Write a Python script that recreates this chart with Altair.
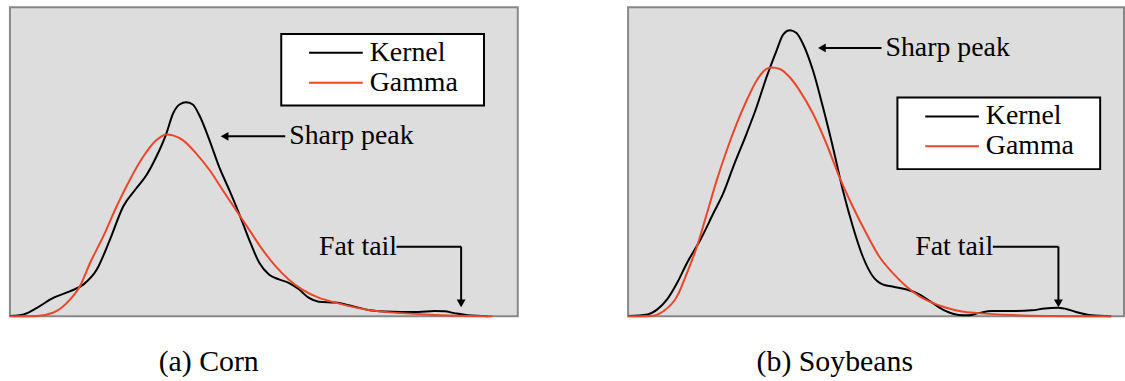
import altair as alt
import pandas as pd

FONT = "Liberation Serif"
SERIES = ["Kernel", "Gamma"]
COLORS = ["#000000", "#e8472a"]

# Corn: kernel density vs fitted gamma density (x scaled to 0-100, density relative)
corn_kernel_x = [0, 2.7, 5.4, 8.6, 11.9, 14.5, 17.1, 19.7, 22.3, 24.9, 26.9, 28.8, 30.8, 32.1,
                 33.4, 34.7, 36.0, 37.3, 39.3, 41.2, 43.2, 45.1, 47.1, 49.1, 51.0, 53.0, 54.9,
                 56.9, 58.8, 60.8, 64.1, 67.3, 70.6, 73.8, 77.1, 80.4, 83.6, 85.6, 87.5, 90.2,
                 92.8, 94.1]
corn_kernel_y = [0.001, 0.006, 0.028, 0.060, 0.081, 0.103, 0.151, 0.248, 0.355, 0.414, 0.457,
                 0.515, 0.591, 0.655, 0.685, 0.692, 0.685, 0.650, 0.569, 0.483, 0.408, 0.333,
                 0.248, 0.173, 0.135, 0.119, 0.108, 0.087, 0.060, 0.047, 0.044, 0.033, 0.020,
                 0.015, 0.014, 0.014, 0.017, 0.016, 0.010, 0.003, 0.001, 0.0]
corn_gamma_x = [0, 5.4, 8.6, 11.9, 13.8, 15.8, 18.4, 21.0, 23.6, 26.2, 28.8, 30.8, 32.1, 34.1,
                36.7, 39.3, 41.9, 44.5, 47.1, 49.7, 52.3, 54.9, 57.5, 60.8, 64.1, 67.3, 70.6,
                73.8, 77.1, 83.6, 90.2, 95.0]
corn_gamma_y = [0.0, 0.001, 0.012, 0.055, 0.098, 0.173, 0.259, 0.355, 0.441, 0.515, 0.569,
                0.588, 0.585, 0.569, 0.526, 0.473, 0.408, 0.344, 0.280, 0.216, 0.162, 0.119,
                0.087, 0.060, 0.044, 0.031, 0.020, 0.014, 0.010, 0.004, 0.001, 0.0]

# Soybeans
soy_kernel_x = [0, 3.9, 5.9, 7.9, 9.9, 11.9, 14.6, 17.2, 19.2, 21.2, 23.9, 25.9, 27.9, 29.9,
                31.3, 32.6, 33.9, 35.3, 37.3, 39.3, 41.3, 43.3, 45.3, 47.3, 49.3, 51.3, 53.3,
                56.0, 58.7, 61.3, 64.0, 66.7, 68.7, 70.7, 73.4, 77.4, 81.4, 84.0, 86.7, 88.7,
                90.7, 93.4, 97.4]
soy_kernel_y = [0.001, 0.006, 0.022, 0.055, 0.108, 0.173, 0.248, 0.333, 0.398, 0.483, 0.591,
                0.676, 0.773, 0.858, 0.912, 0.925, 0.917, 0.880, 0.794, 0.676, 0.547, 0.408,
                0.291, 0.194, 0.130, 0.103, 0.096, 0.087, 0.071, 0.044, 0.017, 0.004, 0.003,
                0.010, 0.017, 0.017, 0.019, 0.025, 0.027, 0.022, 0.012, 0.003, 0.0]
soy_gamma_x = [0, 4.5, 7.2, 9.9, 11.9, 13.9, 15.9, 17.9, 19.9, 21.9, 23.9, 25.9, 27.9, 28.9,
               30.6, 32.6, 34.6, 37.3, 40.0, 42.6, 45.3, 48.0, 50.6, 53.3, 56.0, 58.7, 61.3,
               64.0, 67.3, 70.7, 77.4, 84.0, 90.7, 97.4]
soy_gamma_y = [0.0, 0.001, 0.017, 0.065, 0.141, 0.226, 0.333, 0.441, 0.537, 0.623, 0.698,
               0.762, 0.800, 0.805, 0.800, 0.773, 0.730, 0.655, 0.558, 0.451, 0.355, 0.269,
               0.194, 0.141, 0.098, 0.065, 0.044, 0.028, 0.015, 0.010, 0.004, 0.001, 0.0, 0.0]

CAPTIONS = ["(a) Corn", "(b) Soybeans"]
PEAK_LABEL = "Sharp peak"
TAIL_LABEL = "Fat tail"

ONE = pd.DataFrame({"k": [0]})


def curve(xs, ys, color):
    df = pd.DataFrame({"x": xs, "y": ys})
    return alt.Chart(df).mark_line(color=color, strokeWidth=2, interpolate="monotone").encode(
        x=alt.X("x:Q", scale=alt.Scale(domain=[0, 100]), axis=None),
        y=alt.Y("y:Q", scale=alt.Scale(domain=[0, 1]), axis=None),
    )


def rule(x1, x2, y1, y2):
    return alt.Chart(ONE).mark_rule(color="black", strokeWidth=2).encode(
        x=alt.value(x1), x2=alt.value(x2), y=alt.value(y1), y2=alt.value(y2))


def head(x, y, shape):
    return alt.Chart(ONE).mark_point(shape=shape, filled=True, color="black",
                                     opacity=1, size=80).encode(x=alt.value(x), y=alt.value(y))


def label(text, x, y, align="left", size=28):
    return alt.Chart(ONE).mark_text(text=text, align=align, baseline="middle", font=FONT,
                                    fontSize=size, color="black").encode(
        x=alt.value(x), y=alt.value(y))


def legend(bx, by):
    # boxed key: line sample + series name for each row
    layers = [alt.Chart(ONE).mark_rect(fill="white", stroke="black", strokeWidth=2).encode(
        x=alt.value(bx), x2=alt.value(bx + 204), y=alt.value(by), y2=alt.value(by + 72))]
    for i, (name, col) in enumerate(zip(SERIES, COLORS)):
        yy = by + 19 + 30 * i
        layers.append(alt.Chart(ONE).mark_rule(color=col, strokeWidth=2).encode(
            x=alt.value(bx + 28), x2=alt.value(bx + 82), y=alt.value(yy)))
        layers.append(label(name, bx + 89, yy))
    return layers


def panel(kx, ky, gx, gy, w, caption, cap_x, leg_xy, peak, tail):
    px, py, tip = peak
    tx, ty, tend, tx2 = tail
    layers = [curve(kx, ky, COLORS[0]), curve(gx, gy, COLORS[1])]
    layers += legend(*leg_xy)
    layers += [
        rule(tip + 4, px - 4, py, py),
        head(tip + 4, py, "triangle-left"),
        label(PEAK_LABEL, px, py),
        label(TAIL_LABEL, tx, ty),
        rule(tx + 78, tx2, ty, ty),
        rule(tx2, tx2, ty, tend - 5),
        head(tx2, tend - 4, "triangle-down"),
        label(caption, cap_x, 357, align="center", size=30),
    ]
    return alt.layer(*layers).properties(width=w, height=311)


left = panel(corn_kernel_x, corn_kernel_y, corn_gamma_x, corn_gamma_y, 511,
             CAPTIONS[0], 200, (273, 27), (281, 130, 212), (311, 241, 302, 454))
right = panel(soy_kernel_x, soy_kernel_y, soy_gamma_x, soy_gamma_y, 499,
              CAPTIONS[1], 208, (271, 91), (259, 41, 191), (289, 241, 302, 433))

chart = alt.hconcat(left, right, spacing=105).properties(
    padding={"left": 5, "top": 5, "right": 0, "bottom": 0},
    background="white",
).configure_view(fill="#dddddd", stroke="#888888", strokeWidth=2)

chart.save("out.html", embed_options={"renderer": "svg", "actions": False})
